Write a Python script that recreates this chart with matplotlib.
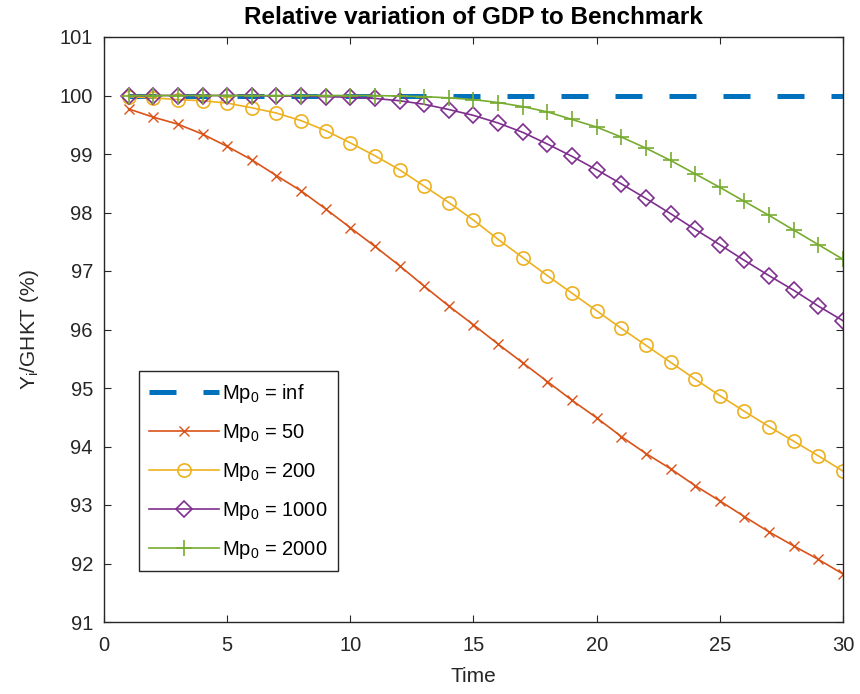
import numpy as np
import matplotlib
matplotlib.use('Agg')
import matplotlib.pyplot as plt

plt.rcParams['font.family'] = ['Liberation Sans', 'DejaVu Sans']
plt.rcParams['mathtext.default'] = 'regular'

t = np.arange(1, 31)

bench = [100.0] * 30

mp50 = [99.77, 99.63, 99.51, 99.34, 99.13, 98.90, 98.63, 98.37, 98.06, 97.74,
        97.42, 97.09, 96.74, 96.40, 96.08, 95.75, 95.43, 95.11, 94.79, 94.49,
        94.17, 93.88, 93.62, 93.33, 93.07, 92.80, 92.54, 92.30, 92.07, 91.82]

mp200 = [99.98, 99.96, 99.93, 99.91, 99.87, 99.79, 99.70, 99.57, 99.40, 99.19,
         98.97, 98.73, 98.45, 98.17, 97.87, 97.54, 97.23, 96.92, 96.62, 96.32,
         96.02, 95.73, 95.44, 95.15, 94.87, 94.60, 94.34, 94.09, 93.84, 93.58]

mp1000 = [100.0, 100.0, 100.0, 100.0, 100.0, 100.0, 99.99, 99.99, 99.98, 99.97,
          99.95, 99.91, 99.85, 99.76, 99.66, 99.53, 99.37, 99.17, 98.96, 98.73,
          98.49, 98.24, 97.98, 97.71, 97.45, 97.18, 96.92, 96.67, 96.40, 96.15]

mp2000 = [100.0, 100.0, 100.0, 100.0, 100.0, 100.0, 100.0, 100.0, 100.0, 100.0,
          100.0, 99.99, 99.98, 99.96, 99.93, 99.88, 99.81, 99.72, 99.59, 99.46,
          99.29, 99.10, 98.89, 98.66, 98.43, 98.19, 97.95, 97.70, 97.45, 97.20]

labels = ['Mp$_0$ = inf', 'Mp$_0$ = 50', 'Mp$_0$ = 200', 'Mp$_0$ = 1000', 'Mp$_0$ = 2000']

fig = plt.figure(figsize=(8.6, 6.94), dpi=100)
ax = fig.add_axes([104/860, 1 - 622/694, (843-104)/860, (622-37)/694])

ax.plot(t, bench, color='#0072BD', lw=3.6, ls=(0, (5.4, 5.4)), label=labels[0])
ax.plot(t, mp50, color='#D95319', lw=1.2, marker='x', ms=7, mew=1.0, label=labels[1])
ax.plot(t, mp200, color='#EDB120', lw=1.2, marker='o', ms=9.5, mfc='none', mew=1.2, label=labels[2])
ax.plot(t, mp1000, color='#7E2F8E', lw=1.2, marker='D', ms=8, mfc='none', mew=1.2, label=labels[3])
ax.plot(t, mp2000, color='#77AC30', lw=1.2, marker='+', ms=11, mew=1.2, label=labels[4])

ax.set_xlim(0, 30)
ax.set_ylim(91, 101)
ax.set_xticks(np.arange(0, 31, 5))
ax.set_yticks(np.arange(91, 102, 1))
ax.tick_params(direction='in', top=True, right=True, labelsize=14.5,
               colors='#262626', length=5)
ax.tick_params(axis='y', pad=8)
ax.tick_params(axis='x', pad=10)
for s in ax.spines.values():
    s.set_color('#262626')
    s.set_linewidth(1.0)

ax.set_title('Relative variation of GDP to Benchmark', fontsize=17.5, fontweight='bold', pad=9)
ax.set_xlabel('Time', fontsize=15, color='#262626', labelpad=9)
ax.set_ylabel('Y$_i$/GHKT (%)', fontsize=15, color='#262626', labelpad=13)

leg = ax.legend(loc='lower left', bbox_to_anchor=(0.047, 0.087), fontsize=14.5,
                handlelength=3.5, handletextpad=0.15, borderpad=0.5, labelspacing=0.85,
                fancybox=False, framealpha=1, borderaxespad=0)
leg.get_frame().set_edgecolor('#262626')
leg.get_frame().set_linewidth(1.0)

fig.savefig('out.png', dpi=100)
